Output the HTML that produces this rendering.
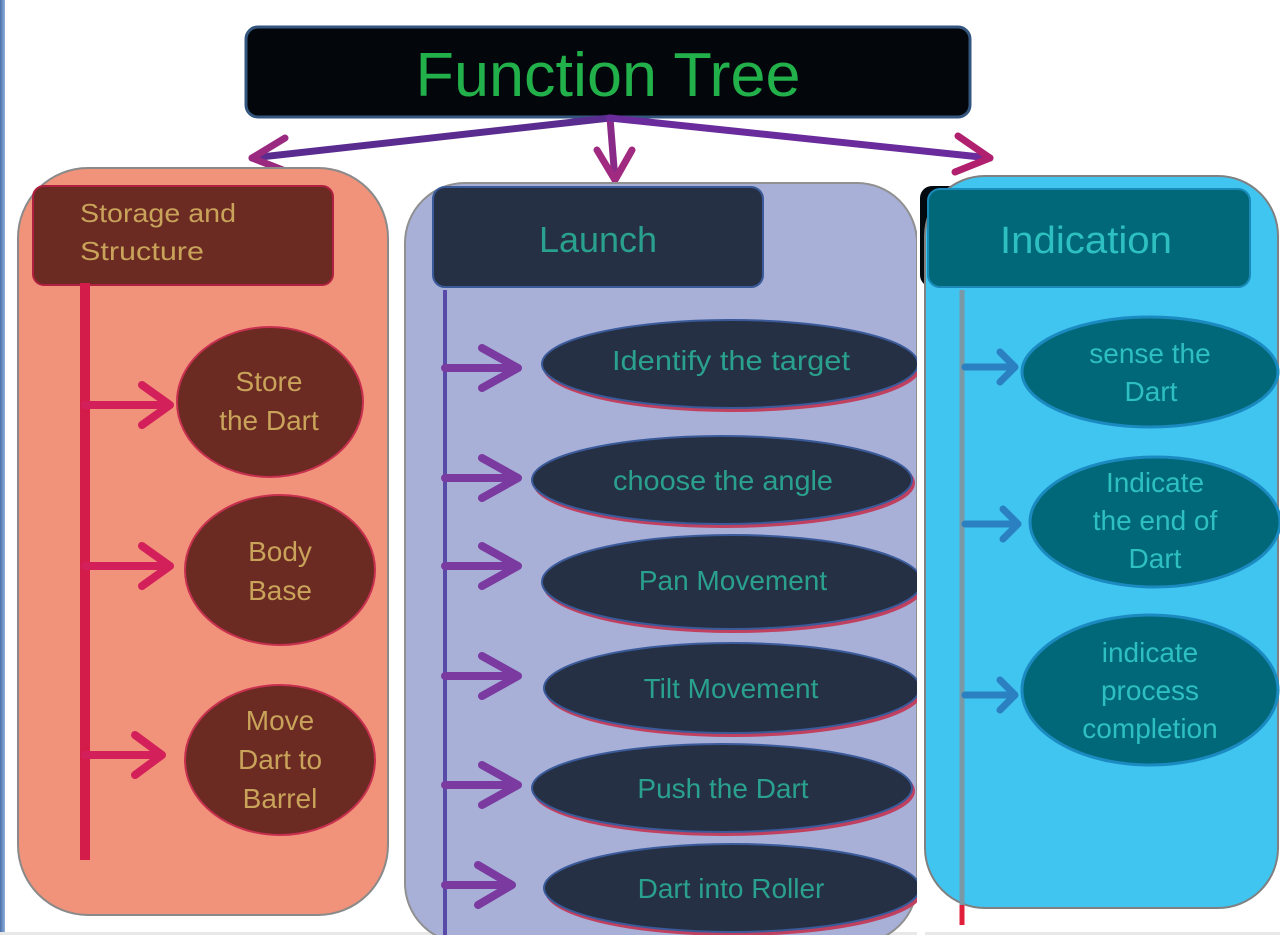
<!DOCTYPE html>
<html><head><meta charset="utf-8"><style>
html,body{margin:0;padding:0;background:#fff;width:1280px;height:935px;overflow:hidden}
svg text{font-family:"Liberation Sans",sans-serif}
</style></head><body>
<svg width="1280" height="935" viewBox="0 0 1280 935" xmlns="http://www.w3.org/2000/svg">
<defs>
<linearGradient id="lb" x1="0" y1="0" x2="1" y2="0"><stop offset="0" stop-color="#4a6fa8"/><stop offset="1" stop-color="#8fb0dc"/></linearGradient>
</defs>
<rect x="0" y="0" width="5" height="935" fill="url(#lb)"/>
<rect x="0" y="932" width="1280" height="3" fill="#e8e8e8"/>

<!-- title -->
<rect x="246" y="27" width="724" height="90" rx="12" fill="#03070b" stroke="#34557e" stroke-width="3"/>
<text x="608" y="96" font-size="62" fill="#22b04a" text-anchor="middle" textLength="385" lengthAdjust="spacingAndGlyphs">Function Tree</text>

<!-- top arrows -->
<g fill="none" stroke-width="7" stroke-linecap="round" stroke-linejoin="round">
<path d="M610 118 L252 158" stroke="#5a2c90"/>
<path d="M285 138 L252 158 L288 172" stroke="#9a2a80"/>
<path d="M610 118 L615 180" stroke="#8a2a88"/>
<path d="M597 150 L615 180 L632 150" stroke="#a02a80"/>
<path d="M610 118 L990 158" stroke="#6a2c9c"/>
<path d="M958 136 L990 158 L955 172" stroke="#b0206e"/>
</g>

<!-- left container -->
<rect x="18" y="168" width="370" height="747" rx="70" fill="#f0937a" stroke="#8a8a8a" stroke-width="2"/>
<rect x="33" y="186" width="300" height="99" rx="11" fill="#6b2a22" stroke="#b02040" stroke-width="2"/>
<text x="80" y="222" font-size="26" fill="#c9a35a" textLength="156" lengthAdjust="spacingAndGlyphs">Storage and</text>
<text x="80" y="260" font-size="26" fill="#c9a35a" textLength="124" lengthAdjust="spacingAndGlyphs">Structure</text>
<line x1="85" y1="283" x2="85" y2="860" stroke="#d41c4a" stroke-width="10"/>
<g fill="none" stroke="#d4205a" stroke-width="8" stroke-linecap="round" stroke-linejoin="round">
<path d="M85 405 L170 405 M142 385 L170 405 L142 425"/>
<path d="M85 566 L170 566 M142 546 L170 566 L142 586"/>
<path d="M85 755 L162 755 M135 735 L162 755 L135 775"/>
</g>
<g fill="#6b2a22" stroke="#c83050" stroke-width="2">
<ellipse cx="270" cy="402" rx="93" ry="75"/>
<ellipse cx="280" cy="570" rx="95" ry="75"/>
<ellipse cx="280" cy="760" rx="95" ry="75"/>
</g>
<g font-size="28" fill="#c9a35a" text-anchor="middle">
<text x="269" y="391">Store</text><text x="269" y="430">the Dart</text>
<text x="280" y="561">Body</text><text x="280" y="600">Base</text>
<text x="280" y="730">Move</text><text x="280" y="769">Dart to</text><text x="280" y="808">Barrel</text>
</g>

<!-- middle container -->
<rect x="405" y="183" width="512" height="760" rx="60" fill="#a8b0d8" stroke="#909090" stroke-width="2"/>
<rect x="433" y="187" width="330" height="100" rx="12" fill="#253044" stroke="#3a5a9a" stroke-width="2"/>
<text x="598" y="252" font-size="36" fill="#2aa08e" text-anchor="middle">Launch</text>
<line x1="445" y1="290" x2="445" y2="935" stroke="#5a4aa8" stroke-width="4"/>
<g fill="none" stroke="#7a3aa0" stroke-width="8" stroke-linecap="round" stroke-linejoin="round">
<path d="M445 368 L518 368 M482 348 L518 368 L482 388"/>
<path d="M445 478 L518 478 M482 458 L518 478 L482 498"/>
<path d="M445 566 L518 566 M482 546 L518 566 L482 586"/>
<path d="M445 676 L518 676 M482 656 L518 676 L482 696"/>
<path d="M445 785 L518 785 M482 765 L518 785 L482 805"/>
<path d="M445 885 L512 885 M478 865 L512 885 L478 905"/>
</g>
<g fill="#253044" stroke="#3a5a9a" stroke-width="2">
<ellipse cx="730" cy="364" rx="188" ry="44" style="filter:drop-shadow(2px 3px 0 #c04060)"/>
<ellipse cx="722" cy="480" rx="190" ry="44" style="filter:drop-shadow(2px 3px 0 #c04060)"/>
<ellipse cx="732" cy="582" rx="190" ry="47" style="filter:drop-shadow(2px 3px 0 #c04060)"/>
<ellipse cx="732" cy="688" rx="188" ry="45" style="filter:drop-shadow(2px 3px 0 #c04060)"/>
<ellipse cx="722" cy="788" rx="190" ry="44" style="filter:drop-shadow(2px 3px 0 #c04060)"/>
<ellipse cx="732" cy="888" rx="188" ry="44" style="filter:drop-shadow(2px 3px 0 #c04060)"/>
</g>
<g font-size="28" fill="#2aa08e" text-anchor="middle">
<text x="731" y="370" textLength="238" lengthAdjust="spacingAndGlyphs">Identify the target</text>
<text x="723" y="490" textLength="220" lengthAdjust="spacingAndGlyphs">choose the angle</text>
<text x="733" y="590">Pan Movement</text>
<text x="731" y="698">Tilt Movement</text>
<text x="723" y="798">Push the Dart</text>
<text x="731" y="898">Dart into Roller</text>
</g>
<rect x="917" y="183" width="8" height="752" fill="#fff"/>

<!-- right container -->
<rect x="920" y="186" width="330" height="101" rx="12" fill="#020a10"/>
<rect x="925" y="176" width="353" height="732" rx="60" fill="#40c4f0" stroke="#808080" stroke-width="2"/>
<rect x="928" y="189" width="322" height="98" rx="12" fill="#006878" stroke="#1a8ab8" stroke-width="2"/>
<text x="1086" y="253" font-size="38" fill="#2ec0c0" text-anchor="middle" textLength="172" lengthAdjust="spacingAndGlyphs">Indication</text>
<line x1="962" y1="290" x2="962" y2="905" stroke="#7a98a6" stroke-width="5"/>
<line x1="962" y1="905" x2="962" y2="925" stroke="#e0203a" stroke-width="5"/>
<g fill="none" stroke="#2a80c0" stroke-width="7" stroke-linecap="round" stroke-linejoin="round">
<path d="M965 367 L1015 367 M1000 352 L1015 367 L1000 382"/>
<path d="M965 524 L1018 524 M1003 509 L1018 524 L1003 539"/>
<path d="M965 695 L1015 695 M1000 680 L1015 695 L1000 710"/>
</g>
<g fill="#006878" stroke="#1a8ac0" stroke-width="3">
<ellipse cx="1150" cy="372" rx="128" ry="55"/>
<ellipse cx="1155" cy="522" rx="125" ry="65"/>
<ellipse cx="1150" cy="690" rx="128" ry="75"/>
</g>
<g font-size="28" fill="#2ec0c0" text-anchor="middle">
<text x="1150" y="363">sense the</text><text x="1151" y="401">Dart</text>
<text x="1155" y="492">Indicate</text><text x="1155" y="530">the  end of</text><text x="1155" y="568">Dart</text>
<text x="1150" y="662">indicate</text><text x="1150" y="700">process</text><text x="1150" y="738">completion</text>
</g>
</svg>
</body></html>
